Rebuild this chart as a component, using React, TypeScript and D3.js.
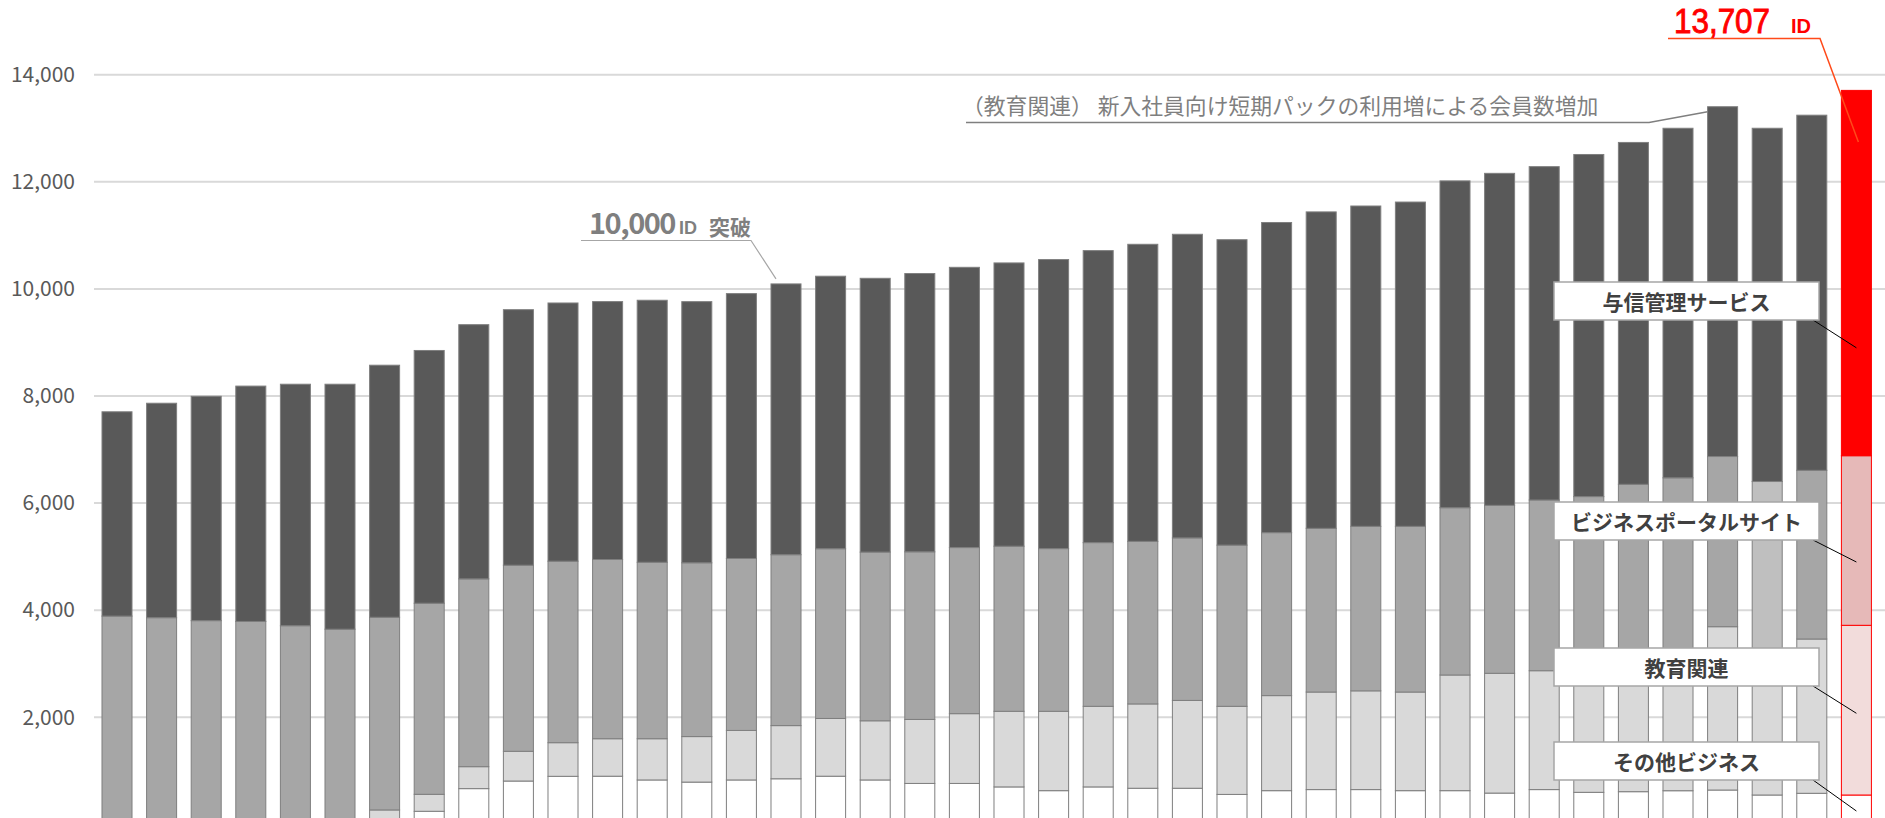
import React, { useEffect, useRef } from 'react';
import * as d3 from 'd3';

const WIDTH = 1885;
const HEIGHT = 818;
const FONT = "'Noto Sans CJK JP', 'Noto Sans', sans-serif";

// 40 periods, oldest first (category names are not shown on the chart)
const periods = d3.range(1, 41).map(n => `P${n}`);

const seriesNames = ['その他ビジネス', '教育関連', 'ビジネスポータルサイト', '与信管理サービス'];

// member IDs per segment (bottom to top)
const otherBusiness = [
  0, 0, 0, 0, 0, 0, 0, 245, 668, 810,
  898, 900, 830, 790, 830, 852, 900, 830, 765, 765,
  700, 630, 700, 675, 675, 560, 630, 650, 650, 630,
  630, 585, 650, 599, 611, 629, 642, 549, 581, 549,
];
const education = [
  0, 0, 0, 0, 0, 0, 270, 317, 410, 555,
  628, 700, 770, 850, 925, 993, 1078, 1105, 1195, 1303,
  1412, 1482, 1505, 1575, 1640, 1645, 1775, 1822, 1844, 1842,
  2160, 2237, 2220, 2321, 2389, 2471, 3050, 2701, 2881, 3169,
];
const portalSite = [
  3890, 3860, 3805, 3790, 3710, 3645, 3598, 3568, 3507, 3475,
  3389, 3347, 3295, 3245, 3211, 3191, 3170, 3150, 3130, 3102,
  3083, 3038, 3057, 3035, 3035, 3010, 3043, 3057, 3072, 3094,
  3124, 3136, 3188, 3202, 3351, 3372, 3178, 3153, 3150, 3167,
];
const creditService = [
  3815, 4005, 4190, 4395, 4510, 4575, 4707, 4720, 4747, 4772,
  4822, 4816, 4893, 4877, 4946, 5057, 5089, 5113, 5197, 5233,
  5290, 5398, 5453, 5548, 5670, 5704, 5792, 5909, 5982, 6056,
  6103, 6200, 6225, 6388, 6384, 6528, 6532, 6597, 6632, 6822,
];

const yTicks = [2000, 4000, 6000, 8000, 10000, 12000, 14000];

const latestTotal = 13707;
// where each legend leader meets the latest bar
const labelAnchors = [250, 2075, 4900, 8900];

const greyFills = ['#ffffff', '#d9d9d9', '#a6a6a6', '#595959'];
const redFills = ['#ffffff', '#f2dcdb', '#e6b9b8', '#ff0000'];
const fadedPortalIndex = 37;

const App: React.FC = () => {
  const svgRef = useRef<SVGSVGElement>(null);

  useEffect(() => {
    if (!svgRef.current) return;
    const svg = d3.select(svgRef.current);
    svg.selectAll('*').remove();

    const keys = ['other', 'education', 'portal', 'credit'];
    const rows = periods.map((p, i) => ({
      period: p,
      other: otherBusiness[i],
      education: education[i],
      portal: portalSite[i],
      credit: creditService[i],
    }));
    const stacked = d3.stack<any>().keys(keys)(rows);

    const x = d3.scaleBand()
      .domain(periods)
      .range([94.7, 1878.7])
      .paddingInner(0.327)
      .paddingOuter(0.1635);

    const y = d3.scaleLinear().domain([0, 14000]).range([824.4, 74.7]);

    const last = periods.length - 1;

    // gridlines
    svg.append('g')
      .selectAll('line')
      .data(yTicks)
      .join('line')
      .attr('x1', 94)
      .attr('x2', WIDTH)
      .attr('y1', d => y(d))
      .attr('y2', d => y(d))
      .attr('stroke', '#d9d9d9')
      .attr('stroke-width', 2);

    // y axis labels
    const axis = svg.append('g')
      .attr('transform', 'translate(77,0)')
      .call(d3.axisLeft(y).tickValues(yTicks).tickSize(0).tickPadding(2).tickFormat(d3.format(',')));
    axis.select('.domain').remove();
    axis.selectAll('text')
      .attr('font-family', FONT)
      .attr('font-size', 21)
      .attr('fill', '#595959');

    // stacked bars
    stacked.forEach((layer, si) => {
      svg.append('g')
        .selectAll('rect')
        .data(layer)
        .join('rect')
        .attr('x', d => x(d.data.period) || 0)
        .attr('y', d => y(d[1]))
        .attr('width', x.bandwidth())
        .attr('height', d => Math.max(0, y(d[0]) - y(d[1])))
        .attr('fill', (d, i) => {
          if (i === last) return redFills[si];
          if (si === 2 && i === fadedPortalIndex) return '#bfbfbf';
          return greyFills[si];
        })
        .attr('stroke', (d, i) => (i === last ? '#ff0000' : '#7f7f7f'))
        .attr('stroke-width', 1)
        .attr('display', d => (d[1] - d[0] > 0 ? null : 'none'));
    });

    const barTop = (i: number) =>
      y(otherBusiness[i] + education[i] + portalSite[i] + creditService[i]);

    // "10,000 ID 突破" callout
    const milestone = 15;
    const mx = x(periods[milestone]) || 0;
    const my = barTop(milestone);
    svg.append('path')
      .attr('d', `M581,240.5 L751,240.5 L${mx + 5},${my - 5}`)
      .attr('fill', 'none')
      .attr('stroke', '#a6a6a6')
      .attr('stroke-width', 1.2);
    svg.append('text')
      .attr('x', 589).attr('y', 234)
      .attr('font-family', FONT).attr('font-size', 29).attr('font-weight', 700)
      .attr('letter-spacing', -1.5)
      .attr('fill', '#7f7f7f')
      .text('10,000');
    svg.append('text')
      .attr('x', 679).attr('y', 234)
      .attr('font-family', "'Liberation Sans', Arial, sans-serif").attr('font-size', 18).attr('font-weight', 700)
      .attr('fill', '#7f7f7f')
      .text('ID');
    svg.append('text')
      .attr('x', 709).attr('y', 235)
      .attr('font-family', FONT).attr('font-size', 21).attr('font-weight', 700)
      .attr('fill', '#7f7f7f')
      .text('突破');

    // education spike callout
    const spike = 36;
    const sx = x(periods[spike]) || 0;
    const sy = barTop(spike);
    svg.append('path')
      .attr('d', `M966,122.5 L1649,122.5 L${sx},${sy + 5}`)
      .attr('fill', 'none')
      .attr('stroke', '#7f7f7f')
      .attr('stroke-width', 1.5);
    svg.append('text')
      .attr('x', 962).attr('y', 114)
      .attr('font-family', FONT).attr('font-size', 21.8)
      .attr('fill', '#7f7f7f')
      .text('（教育関連） 新入社員向け短期パックの利用増による会員数増加');

    // latest total callout
    const lx = (x(periods[last]) || 0) + x.bandwidth() / 2;
    svg.append('text')
      .attr('x', 1674).attr('y', 33)
      .attr('font-family', "'Liberation Sans', Arial, sans-serif").attr('font-size', 34.5)
      .attr('textLength', 96).attr('lengthAdjust', 'spacingAndGlyphs')
      .attr('fill', '#ff0000')
      .attr('stroke', '#ff0000').attr('stroke-width', 0.9)
      .text(d3.format(',')(latestTotal));
    svg.append('text')
      .attr('x', 1791).attr('y', 32.5)
      .attr('font-family', "'Liberation Sans', Arial, sans-serif").attr('font-size', 20).attr('font-weight', 700)
      .attr('fill', '#ff0000')
      .text('ID');
    svg.append('path')
      .attr('d', `M1668,38.5 L1820,38.5 L${lx + 2},142`)
      .attr('fill', 'none')
      .attr('stroke', '#ff4a1a')
      .attr('stroke-width', 1.5);

    // series label boxes with leaders to the latest bar
    const boxTops = [742, 648, 502, 282];
    const boxLeft = 1554;
    const boxW = 265;
    const boxH = 38;
    seriesNames.forEach((name, si) => {
      const top = boxTops[si];
      svg.append('line')
        .attr('x1', 1813).attr('y1', top + boxH)
        .attr('x2', lx).attr('y2', y(labelAnchors[si]))
        .attr('stroke', '#000').attr('stroke-width', 1);
      svg.append('rect')
        .attr('x', boxLeft).attr('y', top)
        .attr('width', boxW).attr('height', boxH)
        .attr('fill', '#ffffff')
        .attr('stroke', '#a6a6a6').attr('stroke-width', 1.5);
      svg.append('text')
        .attr('x', boxLeft + boxW / 2).attr('y', top + boxH / 2)
        .attr('text-anchor', 'middle').attr('dominant-baseline', 'central')
        .attr('font-family', FONT).attr('font-size', 21).attr('font-weight', 700)
        .attr('fill', '#404040')
        .text(name);
    });
  }, []);

  return (
    <svg
      ref={svgRef}
      width={WIDTH}
      height={HEIGHT}
      style={{ position: 'absolute', left: 0, top: 0, background: '#ffffff' }}
    />
  );
};

export default App;
